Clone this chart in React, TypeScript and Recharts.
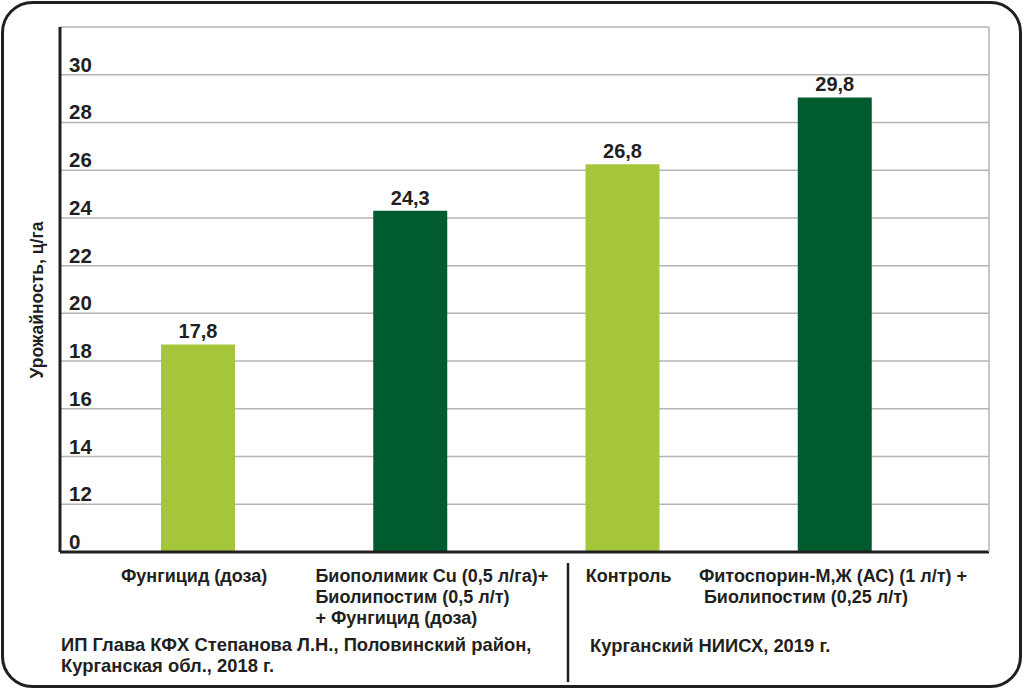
import React from 'react';
import { BarChart, Bar, XAxis, YAxis, CartesianGrid, Cell, LabelList } from 'recharts';

// bar heights as drawn against the axis, and the numbers printed over them
const categories = ['Фунгицид (доза)', 'Биополимик Cu', 'Контроль', 'Фитоспорин-М,Ж'];
const barValues = [18.7, 24.3, 26.25, 29.05];
const valueLabels = ['17,8', '24,3', '26,8', '29,8'];
const categoryLines = [
    ['Фунгицид (доза)'],
    ['Биополимик Cu (0,5 л/га)+', 'Биолипостим (0,5 л/т)', '+ Фунгицид (доза)'],
    ['Контроль'],
    ['Фитоспорин-М,Ж (АС) (1 л/т) +', ' Биолипостим (0,25 л/т)'],
];
// the axis is broken: the bottom tick (10) is printed as 0
const yTicks = [10, 12, 14, 16, 18, 20, 22, 24, 26, 28, 30, 32];
const yTickLabels = ['0', '12', '14', '16', '18', '20', '22', '24', '26', '28', '30', ''];
const sources = [
    ['ИП Глава КФХ Степанова Л.Н., Половинский район,', 'Курганская обл., 2018 г.'],
    ['Курганский НИИСХ, 2019 г.'],
];

const LIGHT = '#a5c63b';
const DARK = '#005c2e';
const barColors = [LIGHT, DARK, LIGHT, DARK];
const FONT = '"Liberation Sans", Arial, sans-serif';
const TEXT = '#231f20';
const GRID = '#b5b5b5';

const data = categories.map((name, i) => ({ name, value: barValues[i] }));

const YTick = ({ x, y, payload }: any) => {
    const i = yTicks.indexOf(payload.value);
    return (
        <text x={x} y={y - 3} textAnchor="start" fontFamily={FONT} fontWeight="bold" fontSize={20.5} fill={TEXT}>
            {yTickLabels[i]}
        </text>
    );
};

// per-category alignment of the multi-line labels under the axis
const labelAlign: { anchor: 'start' | 'middle'; dx: number }[] = [
    { anchor: 'middle', dx: -4 },
    { anchor: 'start', dx: -95 },
    { anchor: 'middle', dx: 6 },
    { anchor: 'start', dx: -136 },
];

const XTick = ({ x, y, index }: any) => {
    const lines = categoryLines[index] || [];
    const a = labelAlign[index];
    return (
        <text x={x + a.dx} y={y} textAnchor={a.anchor} fontFamily={FONT} fontWeight="bold" fontSize={18} fill={TEXT}>
            {lines.map((l, k) => (
                <tspan key={k} x={x + a.dx} y={y + 22 + k * 21} style={{ whiteSpace: 'pre' }}>
                    {l}
                </tspan>
            ))}
        </text>
    );
};

const ValueLabel = ({ x, y, width, index }: any) => (
    <text x={x + width / 2} y={y - 6} textAnchor="middle" fontFamily={FONT} fontWeight="bold" fontSize={20} fill={TEXT}>
        {valueLabels[index]}
    </text>
);

export default function App() {
    return (
        <div style={{ position: 'absolute', left: 0, top: 0, width: 1024, height: 690, background: '#fff' }}>
            <BarChart
                width={1024}
                height={690}
                data={data}
                margin={{ top: 27, right: 34, left: 60, bottom: 0 }}
            >
                <CartesianGrid horizontal vertical={false} stroke={GRID} strokeWidth={1.5} />
                <XAxis
                    dataKey="name"
                    height={138}
                    tickLine={false}
                    axisLine={{ stroke: TEXT, strokeWidth: 3 }}
                    padding={{ left: 32, right: 48 }}
                    interval={0}
                    tick={<XTick />}
                />
                <YAxis
                    width={1}
                    domain={[10, 32]}
                    ticks={yTicks}
                    interval={0}
                    mirror
                    tickLine={false}
                    tickMargin={3}
                    axisLine={{ stroke: TEXT, strokeWidth: 3 }}
                    tick={<YTick />}
                    allowDataOverflow
                />
                <YAxis
                    yAxisId="frame"
                    orientation="right"
                    width={1}
                    domain={[10, 32]}
                    tick={false}
                    tickLine={false}
                    axisLine={{ stroke: GRID, strokeWidth: 1.5 }}
                />
                <Bar dataKey="value" barSize={74} isAnimationActive={false}>
                    {data.map((d, i) => (
                        <Cell key={d.name} fill={barColors[i]} />
                    ))}
                    <LabelList dataKey="value" content={<ValueLabel />} />
                </Bar>
            </BarChart>
            <svg
                width={1024}
                height={690}
                style={{ position: 'absolute', left: 0, top: 0, pointerEvents: 'none' }}
                fontFamily={FONT}
                fontWeight="bold"
                fill={TEXT}
            >
                <rect x={2.5} y={2.5} width={1018} height={684} rx={30} fill="none" stroke={TEXT} strokeWidth={3} />
                <text x={37} y={300} transform="rotate(-90 37 300)" textAnchor="middle" dominantBaseline="central" fontSize={17.5}>
                    Урожайность, ц/га
                </text>
                <line x1={568} y1={563} x2={568} y2={682} stroke={TEXT} strokeWidth={2.5} />
                <text fontSize={18.4}>
                    {sources[0].map((l, k) => (
                        <tspan key={k} x={61} y={651 + k * 21}>
                            {l}
                        </tspan>
                    ))}
                </text>
                <text fontSize={18.4} x={590} y={652}>
                    {sources[1][0]}
                </text>
            </svg>
        </div>
    );
}
